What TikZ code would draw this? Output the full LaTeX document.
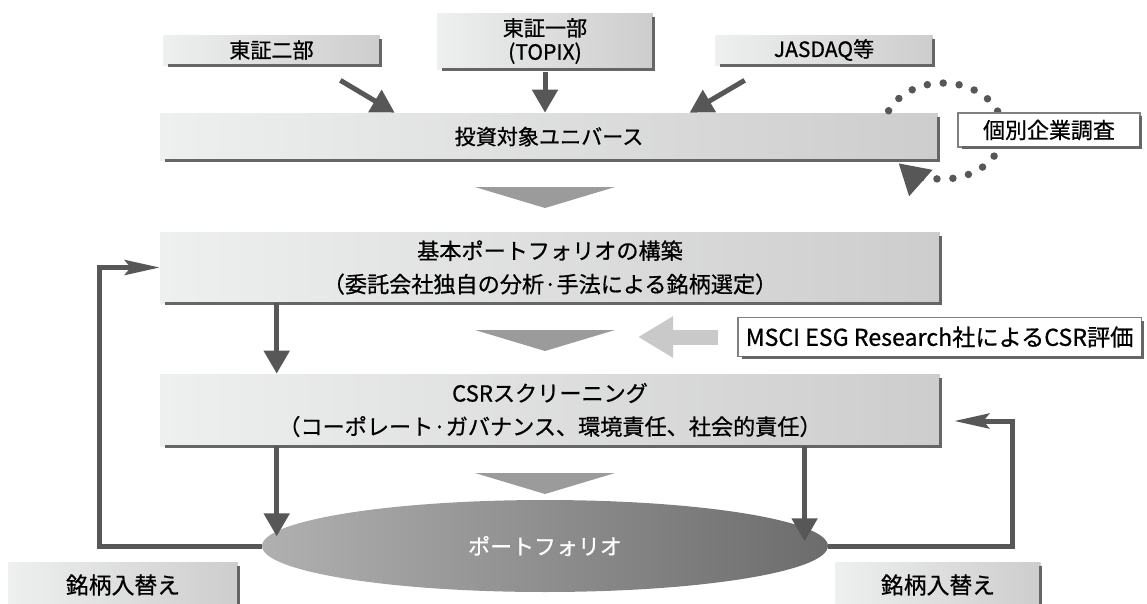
\documentclass[tikz,border=0pt]{standalone}
\usepackage{fontspec}
\setmainfont{Noto Sans CJK JP}[FakeBold=0.7]
\usepackage{xcolor}
\usetikzlibrary{arrows.meta,shapes.geometric}

\definecolor{linegray}{HTML}{575757}
\definecolor{rimgray}{HTML}{666666}
\definecolor{boxlight}{HTML}{EEEFEF}
\definecolor{boxdark}{HTML}{CDCDCD}
\definecolor{chevgray}{HTML}{9B9B9B}
\definecolor{softgray}{HTML}{C9C9C9}
\definecolor{ovallight}{HTML}{B0B0B0}
\definecolor{ovaldark}{HTML}{6C6C6C}

\newcommand{\boxrim}[1]{%
  \draw[rimgray, line width=0.06cm] ([yshift=-0.08cm]#1.north east) -- (#1.south east) -- ([xshift=0.1cm]#1.south west);}

\begin{document}
\begin{tikzpicture}[x=0.02cm, y=-0.02cm, font=\fontsize{12pt}{19pt}\selectfont,
        bigarrow/.style={linegray, line width=0.1cm, -{Triangle[length=0.46cm,width=0.5cm]}},
        looparrow/.style={linegray, line width=0.1cm, -{Stealth[length=0.7cm,width=0.3cm,inset=0.12cm]}}]
    \useasboundingbox (0,0) rectangle (1147,603);

    \begin{scope}[every node/.style={left color=boxlight, right color=boxdark, inner sep=0pt, align=center}]
        \node[minimum width=4.34cm, minimum height=0.6cm]   (TSE2) at (271.5,50)  {東証二部};
        \node[minimum width=4.32cm, minimum height=1.12cm, font=\fontsize{12pt}{13.6pt}\selectfont]
                                                            (TSE1) at (545,41)    {東証一部\\(TOPIX)};
        \node[minimum width=4.36cm, minimum height=0.6cm]   (JQ)   at (824,50)    {JASDAQ等};
        \node[minimum width=15.56cm, minimum height=0.94cm] (U)    at (549,136.5) {投資対象ユニバース};
        \node[minimum width=15.6cm, minimum height=1.42cm, font=\fontsize{12.6pt}{19pt}\selectfont]
                                                            (B)    at (550,267.5) {基本ポートフォリオの構築\\（委託会社独自の分析·手法による銘柄選定）};
        \node[minimum width=15.6cm, minimum height=1.44cm, font=\fontsize{12.6pt}{19pt}\selectfont]
                                                            (S)    at (550,410)   {CSRスクリーニング\\（コーポレート·ガバナンス、環境責任、社会的責任）};
        \node[minimum width=4.6cm, minimum height=0.92cm, font=\fontsize{13pt}{15pt}\selectfont]
                                                            (RL)   at (123,585)   {銘柄入替え};
        \node[minimum width=4.1cm, minimum height=0.92cm, font=\fontsize{13pt}{15pt}\selectfont]
                                                            (RR)   at (938,585)   {銘柄入替え};
    \end{scope}

    % research loop, the white box sits on it
    \draw[linegray, line width=0.15cm, line cap=round, dash pattern=on 0pt off 0.32cm,
          -{Triangle[length=0.6cm,width=0.66cm]}]
        (943,131) ++(-155:60 and 48) arc[start angle=-155, end angle=138, x radius=60, y radius=48];

    \begin{scope}[every node/.style={fill=white, draw=gray, line width=0.03cm, inner sep=0pt}]
        \node[minimum width=3.64cm, minimum height=0.68cm, font=\fontsize{12.5pt}{15pt}\selectfont]
                                                            (R)    at (1049,130)  {個別企業調査};
        \node[minimum height=0.78cm, inner xsep=0.16cm, anchor=west, font=\fontsize{13.2pt}{15pt}\selectfont]
                                                            (M)    at (737,337)   {MSCI ESG Research社によるCSR評価};
    \end{scope}

    \foreach \n in {TSE2,TSE1,JQ,U,B,S,R,M,RL,RR}
        \boxrim{\n};

    \foreach \y in {187,330,473}
        \fill[chevgray] (475,\y) -- (615,\y) -- (545,\y+21) -- cycle;

    \node[ellipse, minimum width=11.32cm, minimum height=1.84cm, left color=ovallight, right color=ovaldark,
          text=white, font=\fontsize{12.5pt}{15pt}\selectfont] (P) at (545,546) {ポートフォリオ};

    \draw[bigarrow] ([xshift=-0.8cm,yshift=-0.3cm]TSE2.south east) -- ([xshift=4.7cm]U.north west);
    \draw[bigarrow] ([yshift=-0.06cm]TSE1.south) -- (TSE1.south |- U.north);
    \draw[bigarrow] ([xshift=0.6cm,yshift=-0.3cm]JQ.south west) -- ([xshift=10.6cm]U.north west);
    \draw[bigarrow] ([xshift=2.34cm]B.south west) -- ([xshift=2.34cm]S.north west);
    \draw[bigarrow] ([xshift=2.34cm]S.south west) -- ++(0,-1.8cm);
    \draw[bigarrow] ([xshift=12.9cm]S.south west) -- ++(0,-1.9cm);

    \draw[softgray, line width=0.3cm, -{Triangle[length=0.7cm,width=0.78cm]}] ([xshift=-0.38cm]M.west) -- ++(-1.6cm,0);

    \draw[looparrow] (P.west) -- ++(-3.24cm,0) |- (B.west);
    \draw[looparrow] (P.east) -- ++(3.68cm,0) |- ([xshift=0.28cm,yshift=-0.22cm]S.east);
\end{tikzpicture}
\end{document}
